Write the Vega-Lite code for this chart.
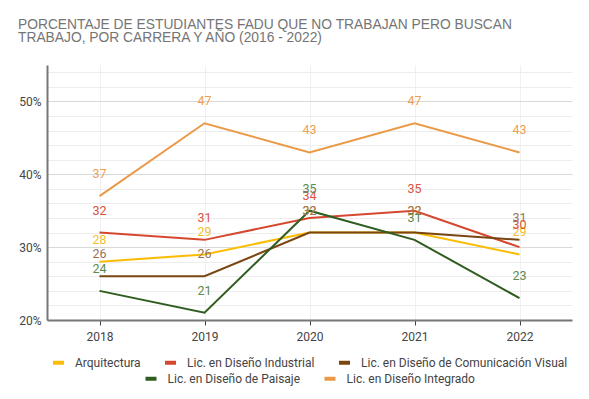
{
  "$schema": "https://vega.github.io/schema/vega-lite/v6.json",
  "width": 525,
  "height": 255,
  "autosize": {"type": "none"},
  "padding": {"left": 47, "top": 65, "right": 17, "bottom": 79},
  "background": "white",
  "title": {
    "text": ["PORCENTAJE DE ESTUDIANTES FADU QUE NO TRABAJAN PERO BUSCAN", "TRABAJO, POR CARRERA Y AÑO (2016 - 2022)"],
    "anchor": "start",
    "frame": "group",
    "dx": -29,
    "offset": 20,
    "font": "Liberation Sans",
    "fontSize": 13.8,
    "fontWeight": "normal",
    "lineHeight": 13.5,
    "color": "#757575"
  },
  "data": {
    "values": [
      {"anio": "2018", "serie": "Arquitectura", "valor": 28},
      {"anio": "2019", "serie": "Arquitectura", "valor": 29},
      {"anio": "2020", "serie": "Arquitectura", "valor": 32},
      {"anio": "2021", "serie": "Arquitectura", "valor": 32},
      {"anio": "2022", "serie": "Arquitectura", "valor": 29},
      {"anio": "2018", "serie": "Lic. en Diseño Industrial", "valor": 32},
      {"anio": "2019", "serie": "Lic. en Diseño Industrial", "valor": 31},
      {"anio": "2020", "serie": "Lic. en Diseño Industrial", "valor": 34},
      {"anio": "2021", "serie": "Lic. en Diseño Industrial", "valor": 35},
      {"anio": "2022", "serie": "Lic. en Diseño Industrial", "valor": 30},
      {"anio": "2018", "serie": "Lic. en Diseño de Comunicación Visual", "valor": 26},
      {"anio": "2019", "serie": "Lic. en Diseño de Comunicación Visual", "valor": 26},
      {"anio": "2020", "serie": "Lic. en Diseño de Comunicación Visual", "valor": 32},
      {"anio": "2021", "serie": "Lic. en Diseño de Comunicación Visual", "valor": 32},
      {"anio": "2022", "serie": "Lic. en Diseño de Comunicación Visual", "valor": 31},
      {"anio": "2018", "serie": "Lic. en Diseño de Paisaje", "valor": 24},
      {"anio": "2019", "serie": "Lic. en Diseño de Paisaje", "valor": 21},
      {"anio": "2020", "serie": "Lic. en Diseño de Paisaje", "valor": 35},
      {"anio": "2021", "serie": "Lic. en Diseño de Paisaje", "valor": 31},
      {"anio": "2022", "serie": "Lic. en Diseño de Paisaje", "valor": 23},
      {"anio": "2018", "serie": "Lic. en Diseño Integrado", "valor": 37},
      {"anio": "2019", "serie": "Lic. en Diseño Integrado", "valor": 47},
      {"anio": "2020", "serie": "Lic. en Diseño Integrado", "valor": 43},
      {"anio": "2021", "serie": "Lic. en Diseño Integrado", "valor": 47},
      {"anio": "2022", "serie": "Lic. en Diseño Integrado", "valor": 43}
    ]
  },
  "encoding": {
    "x": {
      "field": "anio",
      "type": "ordinal",
      "scale": {"type": "point", "padding": 0.5},
      "axis": {
        "title": null,
        "labelAngle": 0,
        "labelFont": "Roboto",
        "labelFontSize": 12,
        "labelColor": "#444444",
        "labelPadding": 6,
        "domainColor": "#777777",
        "domainWidth": 2,
        "tickColor": "#444444",
        "tickSize": 5,
        "tickWidth": 1,
        "grid": true,
        "gridColor": "#f0f0f0",
        "gridWidth": 1
      }
    },
    "y": {
      "field": "valor",
      "type": "quantitative",
      "scale": {"domain": [20, 55], "nice": false, "zero": false},
      "axis": {
        "title": null,
        "values": [20, 22, 24, 26, 28, 30, 32, 34, 36, 38, 40, 42, 44, 46, 48, 50, 52, 54],
        "labelExpr": "datum.value % 10 === 0 ? datum.value + '%' : ''",
        "labelFont": "Roboto",
        "labelFontSize": 12,
        "labelColor": "#444444",
        "labelPadding": 6,
        "ticks": false,
        "domainColor": "#777777",
        "domainWidth": 2,
        "grid": true,
        "gridColor": {"condition": {"test": "datum.value % 10 === 0", "value": "#d9d9d9"}, "value": "#ededed"},
        "gridWidth": 1
      }
    }
  },
  "layer": [
    {
      "transform": [{"filter": {"field": "serie", "oneOf": ["Arquitectura", "Lic. en Diseño Industrial", "Lic. en Diseño de Comunicación Visual"]}}],
      "mark": {"type": "line", "strokeWidth": 2},
      "encoding": {
        "color": {
          "field": "serie",
          "type": "nominal",
          "scale": {"domain": ["Arquitectura", "Lic. en Diseño Industrial", "Lic. en Diseño de Comunicación Visual"], "range": ["#fbbc04", "#d5482f", "#7a4510"]},
          "legend": {"title": null, "orient": "bottom", "direction": "horizontal"}
        }
      }
    },
    {
      "transform": [{"filter": {"field": "serie", "oneOf": ["Lic. en Diseño de Paisaje", "Lic. en Diseño Integrado"]}}],
      "mark": {"type": "line", "strokeWidth": 2},
      "encoding": {
        "color": {
          "field": "serie",
          "type": "nominal",
          "scale": {"domain": ["Lic. en Diseño de Paisaje", "Lic. en Diseño Integrado"], "range": ["#2f5c1f", "#ea9a47"]},
          "legend": {"title": null, "orient": "bottom", "direction": "horizontal"}
        }
      }
    },
    {
      "mark": {"type": "text", "dy": -22, "font": "Roboto", "fontSize": 12.5, "baseline": "middle", "align": "center"},
      "encoding": {
        "text": {"field": "valor", "type": "quantitative", "format": ".0f"},
        "color": {
          "field": "serie",
          "type": "nominal",
          "scale": {"domain": ["Arquitectura", "Lic. en Diseño Industrial", "Lic. en Diseño de Comunicación Visual", "Lic. en Diseño de Paisaje", "Lic. en Diseño Integrado"], "range": ["#f8bf2c", "#d9533f", "#9b7357", "#5b8a4c", "#ee9f51"]},
          "legend": null
        }
      }
    }
  ],
  "resolve": {"scale": {"color": "independent"}},
  "config": {
    "view": {"stroke": null},
    "legend": {
      "labelFont": "Roboto",
      "labelFontSize": 12,
      "labelColor": "#444444",
      "labelLimit": 400,
      "symbolType": "stroke",
      "symbolSize": 121,
      "symbolStrokeWidth": 4,
      "columnPadding": 16,
      "labelOffset": 9,
      "offset": 13,
      "layout": {"bottom": {"anchor": "middle", "direction": "vertical", "center": true, "margin": -3}}
    }
  }
}
